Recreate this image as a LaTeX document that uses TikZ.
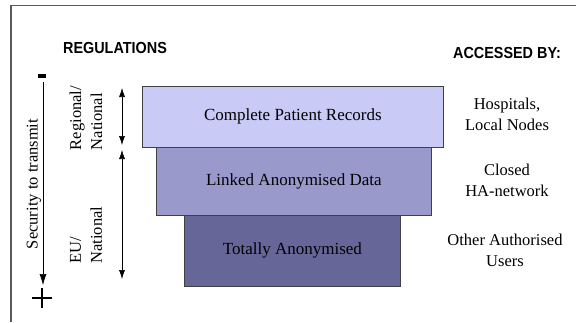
\documentclass[tikz,border=0pt]{standalone}
\usepackage{fontspec}
\setmainfont{Liberation Serif}
\newfontfamily\headfont[FakeStretch=0.9]{Liberation Sans}
\usetikzlibrary{arrows.meta}
\definecolor{boxA}{RGB}{202,202,246}
\definecolor{boxB}{RGB}{153,153,204}
\definecolor{boxC}{RGB}{102,102,153}
\definecolor{frameC}{RGB}{90,90,90}
\begin{document}
\begin{tikzpicture}[x=1pt,y=-1pt,
  layer/.style={draw=black!75, line width=0.8pt, anchor=north west, inner sep=0pt,
    font=\fontsize{17}{20}\selectfont},
  head/.style={font=\headfont\bfseries\fontsize{16}{19}\selectfont, anchor=base, inner sep=0pt},
  lab/.style={font=\fontsize{16.5}{21}\selectfont, align=center, inner sep=0pt},
  rlab/.style={font=\fontsize{16.5}{21}\selectfont, align=left, inner sep=0pt, rotate=90},
  darr/.style={line width=0.6pt, {Latex[length=9pt,width=6pt]}-{Latex[length=9pt,width=6pt]}},
  sarr/.style={line width=0.6pt, -{Latex[length=11pt,width=7pt]}}]
\useasboundingbox (0,0) rectangle (576,322);
% frame
\draw[frameC, line width=1.2pt] (11,322) -- (11,5.5) -- (576,5.5);
% headings
\node[head] (reg) at (115,53) {REGULATIONS};
\node[head] (acc) at (507,58) {ACCESSED BY:};
% layers
\node[layer, fill=boxA, minimum width=301pt, minimum height=61pt] (l1) at (142,86) {Complete Patient Records};
\node[layer, fill=boxB, minimum width=275pt, minimum height=68pt] (l2) at (156,147) {Linked Anonymised Data};
\node[layer, fill=boxC, minimum width=216pt, minimum height=71pt] (l3) at (184,215) {Totally Anonymised};
\draw[black!75, line width=0.8pt] (l1.south west) -- (l1.south east);
% right labels
\node[lab] (hosp) at (507,114) {Hospitals,\\Local Nodes};
\node[lab] (ha) at (507,180) {Closed\\HA-network};
\node[lab] (other) at (505,250) {Other Authorised\\Users};
% security axis
\fill (38,74) rectangle (46,77.5);
\coordinate (stop) at (43,82);
\coordinate (sbot) at (43,285);
\draw[sarr] (stop) -- (sbot);
\draw[line width=1.4pt] (32,298) -- (52,298) (42,288) -- (42,308);
\node[rlab] (sec) at (34,184) {Security to transmit};
% regulation arrows
\coordinate (a1t) at (122,88);
\coordinate (a1b) at (122,145);
\coordinate (a2t) at (122,150);
\coordinate (a2b) at (122,279);
\draw[darr] (a1t) -- (a1b);
\draw[darr] (a2t) -- (a2b);
\node[rlab] (rn) at (86,118) {Regional/\\National};
\node[rlab] (eu) at (86,235) {EU/\\National};
\end{tikzpicture}
\end{document}
